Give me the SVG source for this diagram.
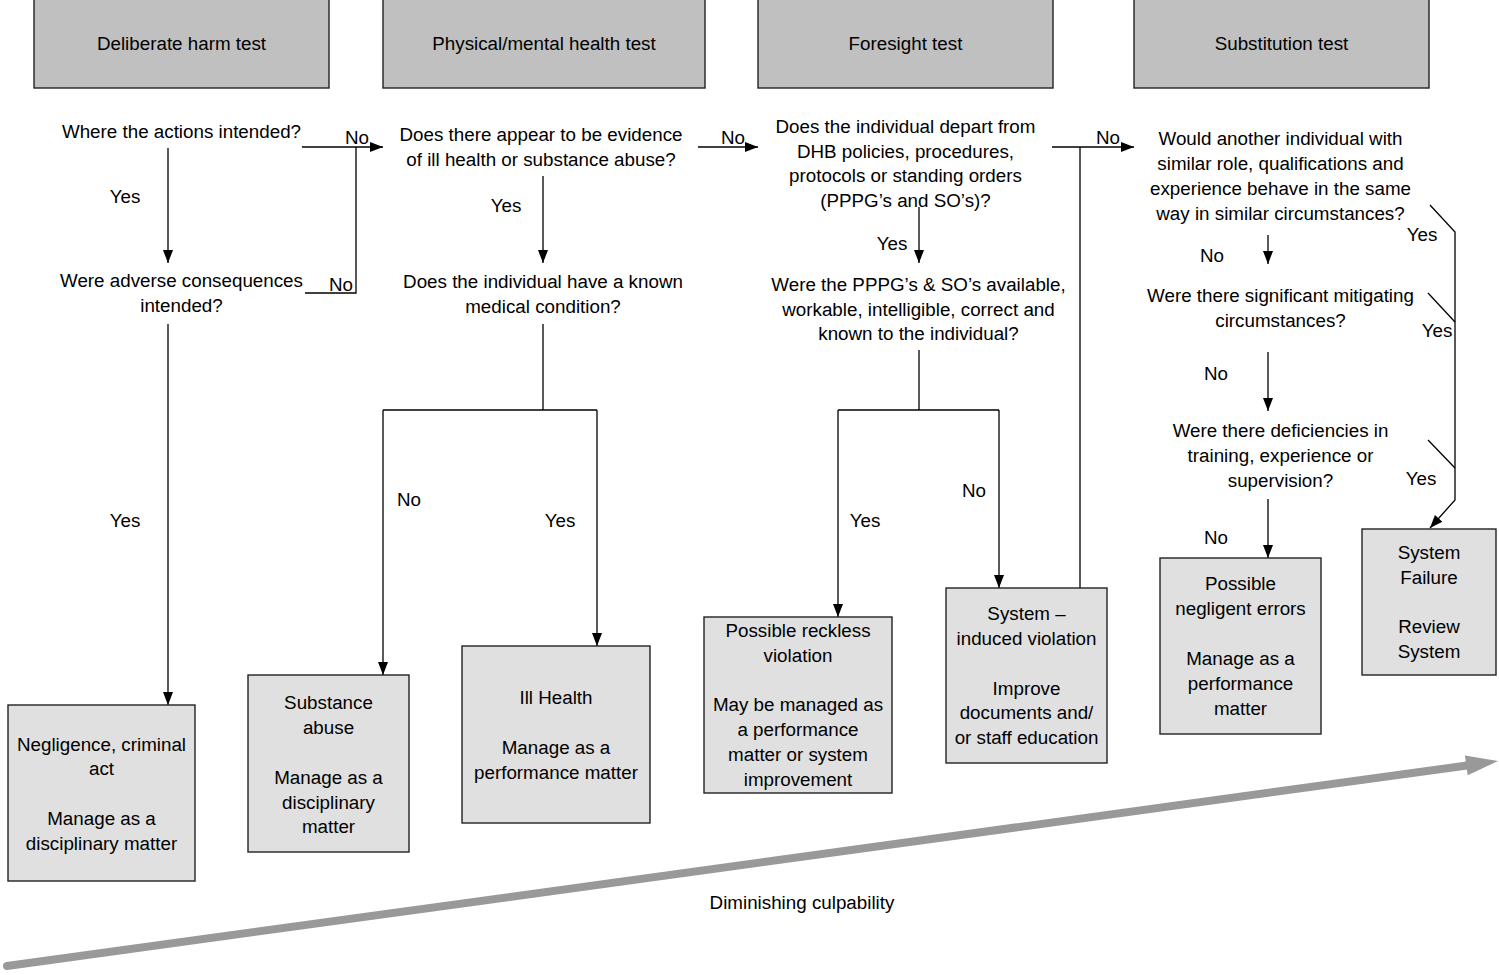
<svg xmlns="http://www.w3.org/2000/svg" width="1499" height="975" viewBox="0 0 1499 975">
<style>
text{font-family:"Liberation Sans",Arial,sans-serif;font-size:18.8px;fill:#000;text-anchor:middle}
.hdr{fill:#c0c0c0;stroke:#222;stroke-width:1.4}
.box{fill:#e0e0e0;stroke:#222;stroke-width:1.4}
.c{fill:none;stroke:#000;stroke-width:1.3}
.a{fill:none;stroke:#000;stroke-width:1.3;marker-end:url(#ah)}
</style>
<defs>
<marker id="ah" markerUnits="userSpaceOnUse" markerWidth="14" markerHeight="12" viewBox="0 0 14 12" refX="13" refY="6" orient="auto">
<path d="M0,1 L13,6 L0,11 Z" fill="#000"/>
</marker>
</defs>
<rect width="1499" height="975" fill="#fff"/>

<g id="headers">
<g id="h1"><rect class="hdr" x="34" y="-2" width="295" height="90"/><text x="181.5" y="50">Deliberate harm test</text></g>
<g id="h2"><rect class="hdr" x="383" y="-2" width="322" height="90"/><text x="544" y="50">Physical/mental health test</text></g>
<g id="h3"><rect class="hdr" x="758" y="-2" width="295" height="90"/><text x="905.5" y="50">Foresight test</text></g>
<g id="h4"><rect class="hdr" x="1134" y="-2" width="295" height="90"/><text x="1281.5" y="50">Substitution test</text></g>
</g>

<g id="connectors">
<line class="a" x1="168" y1="148" x2="168" y2="263"/>
<line class="a" x1="302" y1="147" x2="383" y2="147"/>
<polyline class="c" points="305,293 356,293 356,147"/>
<line class="a" x1="168" y1="324" x2="168" y2="705"/>
<line class="a" x1="543" y1="176" x2="543" y2="263"/>
<line class="c" x1="543" y1="324" x2="543" y2="410"/>
<line class="c" x1="383" y1="410" x2="597" y2="410"/>
<line class="a" x1="383" y1="410" x2="383" y2="675"/>
<line class="a" x1="597" y1="410" x2="597" y2="646"/>
<line class="a" x1="698" y1="147" x2="758" y2="147"/>
<line class="a" x1="919" y1="207" x2="919" y2="263"/>
<line class="c" x1="919" y1="350" x2="919" y2="410"/>
<line class="c" x1="838" y1="410" x2="999" y2="410"/>
<line class="a" x1="838" y1="410" x2="838" y2="617"/>
<line class="a" x1="999" y1="410" x2="999" y2="588"/>
<line class="c" x1="1080" y1="588" x2="1080" y2="147"/>
<line class="a" x1="1052" y1="147" x2="1134" y2="147"/>
<line class="a" x1="1268" y1="235" x2="1268" y2="264"/>
<line class="a" x1="1268" y1="352" x2="1268" y2="411"/>
<line class="a" x1="1268" y1="499" x2="1268" y2="558"/>
<polyline class="a" points="1430,205 1455,232 1455,500 1430,528"/>
<line class="c" x1="1428" y1="293" x2="1455" y2="322"/>
<line class="c" x1="1428" y1="440" x2="1455" y2="468"/>
</g>

<g id="labels">
<text x="357" y="144">No</text>
<text x="341" y="291">No</text>
<text x="125" y="203">Yes</text>
<text x="125" y="527">Yes</text>
<text x="506" y="212">Yes</text>
<text x="409" y="506">No</text>
<text x="560" y="527">Yes</text>
<text x="733" y="144">No</text>
<text x="892" y="250">Yes</text>
<text x="865" y="527">Yes</text>
<text x="974" y="497">No</text>
<text x="1108" y="144">No</text>
<text x="1212" y="262">No</text>
<text x="1216" y="380">No</text>
<text x="1216" y="544">No</text>
<text x="1422" y="241">Yes</text>
<text x="1437" y="337">Yes</text>
<text x="1421" y="485">Yes</text>
</g>

<g id="q1a"><text x="181.5" y="138">Where the actions intended?</text></g>
<g id="q1b"><text x="181.5" y="287">Were adverse consequences</text><text x="181.5" y="312">intended?</text></g>
<g id="q2a"><text x="541" y="141">Does there appear to be evidence</text><text x="541" y="166">of ill health or substance abuse?</text></g>
<g id="q2b"><text x="543" y="288">Does the individual have a known</text><text x="543" y="313">medical condition?</text></g>
<g id="q3a"><text x="905.5" y="133">Does the individual depart from</text><text x="905.5" y="158">DHB policies, procedures,</text><text x="905.5" y="182">protocols or standing orders</text><text x="905.5" y="207">(PPPG’s and SO’s)?</text></g>
<g id="q3b"><text x="918.5" y="291">Were the PPPG’s &amp; SO’s available,</text><text x="918.5" y="316">workable, intelligible, correct and</text><text x="918.5" y="340">known to the individual?</text></g>
<g id="q4a"><text x="1280.5" y="145">Would another individual with</text><text x="1280.5" y="170">similar role, qualifications and</text><text x="1280.5" y="195">experience behave in the same</text><text x="1280.5" y="220">way in similar circumstances?</text></g>
<g id="q4b"><text x="1280.5" y="302">Were there significant mitigating</text><text x="1280.5" y="327">circumstances?</text></g>
<g id="q4c"><text x="1280.5" y="437">Were there deficiencies in</text><text x="1280.5" y="462">training, experience or</text><text x="1280.5" y="487">supervision?</text></g>

<g id="o1"><rect class="box" x="8" y="705" width="187" height="176"/>
<text x="101.5" y="750.5">Negligence, criminal</text><text x="101.5" y="774.5">act</text><text x="101.5" y="824.5">Manage as a</text><text x="101.5" y="849.5">disciplinary matter</text></g>
<g id="o2"><rect class="box" x="248" y="675" width="161" height="177"/>
<text x="328.5" y="708.5">Substance</text><text x="328.5" y="733.5">abuse</text><text x="328.5" y="783.5">Manage as a</text><text x="328.5" y="808.5">disciplinary</text><text x="328.5" y="832.5">matter</text></g>
<g id="o3"><rect class="box" x="462" y="646" width="188" height="177"/>
<text x="556" y="703.5">Ill Health</text><text x="556" y="753.5">Manage as a</text><text x="556" y="778.5">performance matter</text></g>
<g id="o4"><rect class="box" x="704" y="617" width="188" height="176"/>
<text x="798" y="636.5">Possible reckless</text><text x="798" y="661.5">violation</text><text x="798" y="710.5">May be managed as</text><text x="798" y="735.5">a performance</text><text x="798" y="760.5">matter or system</text><text x="798" y="785.5">improvement</text></g>
<g id="o5"><rect class="box" x="946" y="588" width="161" height="175"/>
<text x="1026.5" y="619.5">System –</text><text x="1026.5" y="644.5">induced violation</text><text x="1026.5" y="694.5">Improve</text><text x="1026.5" y="718.5">documents and/</text><text x="1026.5" y="743.5">or staff education</text></g>
<g id="o6"><rect class="box" x="1160" y="558" width="161" height="176"/>
<text x="1240.5" y="589.5">Possible</text><text x="1240.5" y="614.5">negligent errors</text><text x="1240.5" y="664.5">Manage as a</text><text x="1240.5" y="689.5">performance</text><text x="1240.5" y="714.5">matter</text></g>
<g id="o7"><rect class="box" x="1362" y="529" width="134" height="146"/>
<text x="1429" y="559">System</text><text x="1429" y="583.5">Failure</text><text x="1429" y="633">Review</text><text x="1429" y="657.5">System</text></g>

<g id="culpability">
<line x1="7" y1="966" x2="1467" y2="765.5" stroke="#999" stroke-width="8" stroke-linecap="round"/>
<polygon points="1498,761 1467.7,775.3 1464.9,755.5" fill="#999"/>
<text x="802" y="909">Diminishing culpability</text>
</g>
</svg>
